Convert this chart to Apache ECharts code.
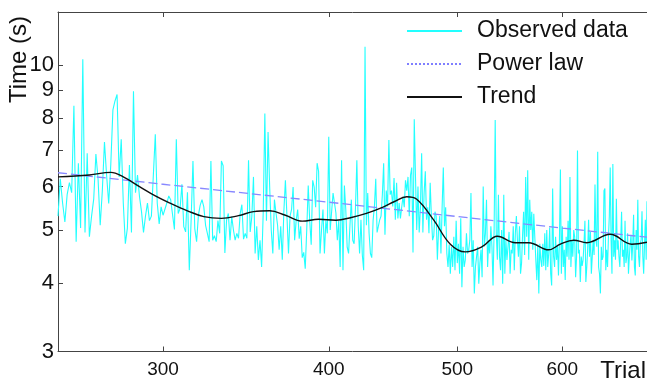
<!DOCTYPE html>
<html>
<head>
<meta charset="utf-8">
<script src="https://cdn.jsdelivr.net/npm/echarts@6.0.0/dist/echarts.min.js"></script>
<style>
html,body{margin:0;padding:0;background:#fff;}
#chart{width:647px;height:383px;}
</style>
</head>
<body>
<div id="chart"></div>
<script>
// ---- data ----
const firstTrial = 250;
const observed = [
  5.3, 6.2, 5.6, 5.17, 5.8, 6.1, 5.85, 8.43, 4.76, 6.62,
  5.04, 10.25, 4.95, 6.9, 4.86, 5.3, 5.7, 6.88, 6.2, 5.1,
  5.9, 7.24, 6.3, 5.59, 6.6, 8.28, 8.6, 8.84, 6.25, 7.32,
  5.6, 4.72, 5.04, 6.57, 4.95, 8.96, 5.85, 6.3, 5.75, 5.4,
  4.95, 5.3, 5.6, 5.2, 5.3, 5.3, 7.48,
  5.6, 5.13, 5.51, 5.32,
  5.36, 5.6, 5.77, 5.68, 5.68, 5.01, 7.32, 5.36, 5.47, 6.06,
  5.07, 4.96, 5.86, 4.22, 5.22, 6.68, 5.03, 4.76, 5.32, 5.55,
  5.68, 5.51, 5.1, 4.93, 4.76, 6.68, 4.79, 4.88, 4.76, 5.2,
  4.93, 6.68, 6.55, 4.54, 5.22, 5.36, 4.79, 5.29, 5.0, 4.79,
  4.93, 4.83, 5.36, 5.56, 4.81, 4.93, 4.83, 6.7, 4.96, 5.29,
  6.25,
  4.53, 5.08, 4.41, 4.79, 4.28, 5.4, 8.16, 5.2,
  7.55, 6.0, 5.0, 4.53, 5.68, 5.37, 5.1, 4.6, 5.08, 4.41,
  5.4, 6.16, 5.3, 4.53, 5.3, 5.45, 5.99, 4.79, 5.2, 5.45,
  4.82, 5.08, 4.45, 4.55, 4.25, 5.0, 6.03, 5.2, 4.7, 6.16,
  5.99, 5.5, 6.62, 6.4, 4.53, 5.0, 5.45, 4.53, 5.2, 4.93,
  7.40, 5.0, 5.4, 5.84, 5.6, 5.37, 4.79, 5.2, 4.28, 6.7,
  4.22, 6.03, 5.45, 4.65, 4.53, 5.1, 5.68,
  4.79, 4.72, 5.5,
  6.7, 5.08, 4.53, 5.22, 4.5, 4.22, 10.8, 5.1, 5.84, 4.93,
  4.53, 4.45, 5.2, 5.52, 6.2, 4.95, 5.08, 5.22, 5.3, 5.8,
  6.62, 4.9, 5.9, 5.52, 7.3, 5.8, 5.9, 5.52, 6.22, 5.22,
  6.1, 5.25, 5.6, 5.25, 5.5, 5.75, 5.5, 6.16, 5.9, 6.25,
  5.3, 6.3, 6.5, 4.55, 7.96, 6.25, 5.0, 6.0, 4.95, 5.5,
  6.9, 4.95, 5.84, 6.4, 5.22, 5.5, 4.93, 6.1, 5.3, 4.79,
  4.88, 5.4, 5.3, 4.41, 5.0, 5.3, 4.53, 5.5, 6.5, 5.08,
  5.5, 4.53, 4.28, 4.7, 4.16,
  4.66, 4.28, 4.86, 4.22, 5.2,
  4.35, 4.72, 4.16, 5.25, 3.93, 4.66, 4.28, 4.41, 4.93, 4.53,
  4.6, 4.79, 5.84, 4.28, 4.79, 3.83, 4.28, 4.47, 4.66, 3.99,
  4.35, 4.6, 4.1, 6.0, 4.66, 4.93, 5.68, 4.28, 4.79, 4.53,
  5.08, 4.66, 3.96, 5.0, 7.94, 4.93, 4.41, 5.8, 4.47, 4.22,
  5.0, 3.99, 5.8, 4.16, 4.79, 4.41, 4.66, 4.96, 4.16, 4.6,
  4.53, 5.08, 4.22, 4.93, 5.3, 4.79, 4.47, 5.08, 4.16, 4.35,
  4.9, 5.4, 4.5, 6.25, 4.86, 6.43, 4.41, 5.68, 5.0, 5.4,
  4.6, 5.35, 5.33, 4.41, 4.05, 4.7, 3.83, 4.72, 4.41, 4.28,
  4.72, 4.3, 4.93, 4.22, 5.0, 4.28, 4.53,
  5.05, 4.16, 3.96,
  5.95, 4.47, 4.28, 4.86, 4.41, 4.69, 4.13, 4.79, 6.45, 4.16,
  5.08, 4.28, 4.6, 4.05, 4.86, 4.47, 5.2, 4.41, 6.25, 4.28,
  4.79, 4.47, 5.0, 4.86, 4.1, 4.47, 6.98, 4.53, 4.6, 4.02,
  4.47, 4.3, 4.41, 4.72, 5.2, 4.02, 4.28, 4.62, 5.22, 4.47,
  4.96, 4.16, 4.47, 4.8, 4.5, 6.05, 4.79, 4.66, 6.95, 4.28,
  4.16, 3.83, 4.66, 4.41, 4.47, 5.9, 5.95, 4.22, 4.6, 4.28,
  4.86, 5.3, 6.5, 4.79, 4.16, 6.6, 4.47, 4.79, 4.41, 5.7,
  4.6, 4.79, 4.47, 4.28, 4.79, 5.4, 4.47, 4.6, 4.28, 5.2,
  4.35, 4.47, 4.93, 4.16, 4.47, 4.72, 4.9, 4.4, 4.7, 5.33,
  4.28, 4.13, 5.0, 4.6, 5.68, 4.47, 4.28, 4.72, 4.8, 5.41,
  4.47, 4.16, 4.7, 5.22, 4.41, 5.64
];
const powerTrials = [250, 300, 400, 500, 600, 695];
const powerValues = [6.36, 6.06, 5.62, 5.29, 5.04, 4.85];
const trendTrials = [250, 264, 274, 280, 288, 296, 304, 313, 322, 332, 342, 351, 361, 371, 382, 393, 405, 416, 427, 440, 448, 458, 466, 480, 494, 507, 522, 536, 553, 566, 586, 598, 612, 626, 652, 677, 695];
const trendValues = [6.25, 6.30, 6.37, 6.25, 6.00, 5.77, 5.59, 5.42, 5.29, 5.25, 5.31, 5.40, 5.42, 5.32, 5.19, 5.23, 5.21, 5.27, 5.36, 5.51, 5.63, 5.75, 5.69, 5.21, 4.71, 4.56, 4.66, 4.87, 4.74, 4.74, 4.60, 4.71, 4.79, 4.74, 4.91, 4.71, 4.75];
const xTicks = [300, 400, 500, 600];
const yTicks = [3, 4, 5, 6, 7, 8, 9, 10];
const seriesNames = ['Observed data', 'Power law', 'Trend'];

// ---- build ----
const obsData = observed.map((v, i) => [firstTrial + i, v]);
const powData = powerTrials.map((t, i) => [t, powerValues[i]]);
const trdData = trendTrials.map((t, i) => [t, trendValues[i]]);

const FONT = "'Liberation Sans', Arial, sans-serif";
const AX = '#444';

const chart = echarts.init(document.getElementById('chart'), null, {renderer: 'canvas'});
chart.setOption({
  animation: false,
  backgroundColor: '#fff',
  grid: {left: 58, top: 12, right: 0, bottom: 31.5, containLabel: false},
  xAxis: [{
    type: 'log', logBase: 10, min: 250, max: 695, position: 'bottom',
    axisLine: {show: true, lineStyle: {color: AX, width: 1}},
    axisTick: {show: true, inside: true, length: 5, customValues: xTicks, lineStyle: {color: AX}},
    axisLabel: {show: true, customValues: xTicks, margin: 9, color: '#111', fontSize: 19, fontFamily: FONT},
    splitLine: {show: false}, minorTick: {show: false}
  }, {
    type: 'log', logBase: 10, min: 250, max: 695, position: 'top',
    axisLine: {show: true, lineStyle: {color: AX, width: 1}},
    axisTick: {show: true, inside: true, length: 5, customValues: xTicks, lineStyle: {color: AX}},
    axisLabel: {show: false},
    splitLine: {show: false}
  }],
  yAxis: [{
    type: 'log', logBase: 10, min: 3, max: 12.5,
    axisLine: {show: true, lineStyle: {color: AX, width: 1}},
    axisTick: {show: true, inside: true, length: 5, customValues: yTicks, lineStyle: {color: AX}},
    axisLabel: {show: true, customValues: yTicks, margin: 4, color: '#111', fontSize: 22, fontFamily: FONT},
    splitLine: {show: false}
  }],
  legend: {
    orient: 'vertical', left: 406, top: 19, padding: 0,
    itemWidth: 55, itemHeight: 14, itemGap: 9,
    selectedMode: false,
    itemStyle: {opacity: 0},
    textStyle: {fontSize: 23, fontFamily: FONT, color: '#111', lineHeight: 24, padding: [0, 0, 0, 10]},
    data: [
      {name: seriesNames[0]},
      {name: seriesNames[1], itemStyle: {color: '#0000ff', opacity: 0},
       lineStyle: {color: '#0000ff', type: [2, 2], width: 1.2, opacity: 1}},
      {name: seriesNames[2]}
    ]
  },
  graphic: [
    {type: 'text', left: 7, top: 16, rotation: Math.PI / 2, style: {text: 'Time (s)', font: "24px " + FONT, fill: '#111'}},
    {type: 'text', right: 1, bottom: 0, style: {text: 'Trial', font: "24px " + FONT, fill: '#111'}}
  ],
  series: [
    {name: seriesNames[0], type: 'line', data: obsData, symbol: 'none', clip: true,
     lineStyle: {color: '#22ffff', width: 1.1}, itemStyle: {color: '#22ffff'}, z: 1},
    {name: seriesNames[1], type: 'line', data: powData, symbol: 'none', clip: true,
     lineStyle: {color: '#8888ff', width: 1.3, type: [9, 4]}, itemStyle: {color: '#8888ff'}, z: 2},
    {name: seriesNames[2], type: 'line', data: trdData, symbol: 'none', smooth: 0.4, clip: true,
     lineStyle: {color: '#111', width: 1.4}, itemStyle: {color: '#111'}, z: 3}
  ]
});
</script>
</body>
</html>
